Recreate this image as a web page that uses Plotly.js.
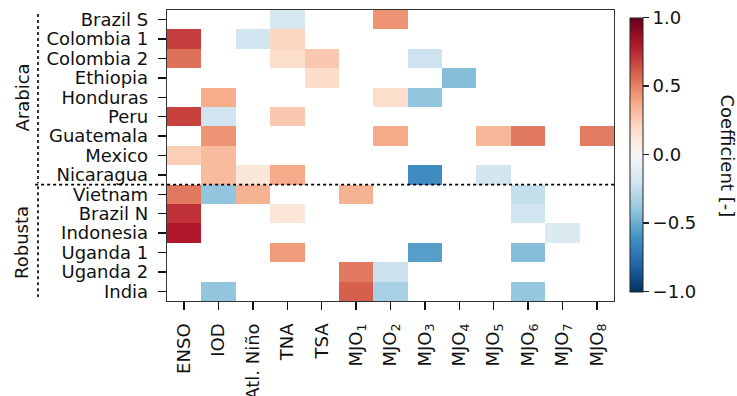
<!DOCTYPE html>
<html>
<head>
<meta charset="utf-8">
<script src="https://cdn.plot.ly/plotly-3.0.1.min.js"></script>
<style>body{margin:0;padding:0;background:#fff;} #chart{width:737px;height:396px;}</style>
</head>
<body>
<div id="chart"></div>
<script>
const columns = ["ENSO","IOD","Atl. Niño","TNA","TSA","MJO<sub>1</sub>","MJO<sub>2</sub>","MJO<sub>3</sub>","MJO<sub>4</sub>","MJO<sub>5</sub>","MJO<sub>6</sub>","MJO<sub>7</sub>","MJO<sub>8</sub>"];
const regions = ["Brazil S","Colombia 1","Colombia 2","Ethiopia","Honduras","Peru","Guatemala","Mexico","Nicaragua","Vietnam","Brazil N","Indonesia","Uganda 1","Uganda 2","India"];
const groups = ["Arabica","Robusta"];
// coefficients per region, columns in order above (null = not significant)
const brazilS    = [null, null, null, -0.17, null, null, 0.45, null, null, null, null, null, null];
const colombia1  = [0.70, null, -0.20, 0.22, null, null, null, null, null, null, null, null, null];
const colombia2  = [0.55, null, null, 0.18, 0.27, null, null, -0.21, null, null, null, null, null];
const ethiopia   = [null, null, null, null, 0.19, null, null, null, -0.43, null, null, null, null];
const honduras   = [null, 0.37, null, null, null, null, 0.18, -0.40, null, null, null, null, null];
const peru       = [0.69, -0.20, null, 0.27, null, null, null, null, null, null, null, null, null];
const guatemala  = [null, 0.45, null, null, null, null, 0.38, null, null, 0.33, 0.53, null, 0.52];
const mexico     = [0.25, 0.32, null, null, null, null, null, null, null, null, null, null, null];
const nicaragua  = [null, 0.32, 0.12, 0.38, null, null, null, -0.63, null, -0.19, null, null, null];
const vietnam    = [0.53, -0.40, 0.35, null, null, 0.35, null, null, null, null, -0.24, null, null];
const brazilN    = [0.73, null, null, 0.13, null, null, null, null, null, null, -0.20, null, null];
const indonesia  = [0.80, null, null, null, null, null, null, null, null, null, null, -0.14, null];
const uganda1    = [null, null, null, 0.43, null, null, null, -0.55, null, null, -0.43, null, null];
const uganda2    = [null, null, null, null, null, 0.53, -0.22, null, null, null, null, null, null];
const india      = [null, -0.40, null, null, null, 0.60, -0.33, null, null, null, -0.39, null, null];
const zRows = [brazilS, colombia1, colombia2, ethiopia, honduras, peru, guatemala, mexico, nicaragua, vietnam, brazilN, indonesia, uganda1, uganda2, india];
const cbTicks = [-1.0, -0.5, 0.0, 0.5, 1.0];
const cbTickText = ["\u22121.0", "\u22120.5", "0.0", "0.5", "1.0"];

const rdbu_r = [
  [0.0, "#053061"],[0.1, "#2166ac"],[0.2, "#4393c3"],[0.3, "#92c5de"],[0.4, "#d1e5f0"],
  [0.5, "#f7f7f7"],[0.6, "#fddbc7"],[0.7, "#f4a582"],[0.8, "#d6604d"],[0.9, "#b2182b"],[1.0, "#67001f"]
];
const FONT = "DejaVu Sans, sans-serif";

const trace = {
  type: "heatmap",
  z: zRows,
  x: columns,
  y: regions,
  zmin: -1, zmax: 1,
  colorscale: rdbu_r,
  hoverongaps: false,
  xgap: 0, ygap: 0,
  colorbar: {
    x: 1.0365, xanchor: "left", xpad: 0,
    y: 0.503, yanchor: "middle", ypad: 0,
    len: 0.94, lenmode: "fraction",
    thickness: 12.5, thicknessmode: "pixels",
    outlinewidth: 1, outlinecolor: "#222",
    ticks: "outside", ticklen: 6, tickwidth: 1.5, tickcolor: "#222",
    tickvals: cbTicks, ticktext: cbTickText,
    tickfont: {family: FONT, size: 18, color: "#111"}
  }
};

const nA = 9;
const layout = {
  width: 737, height: 396,
  margin: {l: 167, r: 123, t: 10, b: 95, pad: 0},
  paper_bgcolor: "#fff", plot_bgcolor: "#fff",
  font: {family: FONT, size: 18, color: "#111"},
  xaxis: {
    type: "category", tickangle: -90, tickmode: "linear", tick0: 0, dtick: 1,
    ticks: "outside", ticklen: 8, tickwidth: 1.5, tickcolor: "#111",
    showline: true, linecolor: "#333", linewidth: 1.25, mirror: true,
    showgrid: false, zeroline: false, ticklabelstandoff: 6,
    tickfont: {family: FONT, size: 18, color: "#111"}
  },
  yaxis: {
    type: "category", autorange: "reversed", tickmode: "linear", tick0: 0, dtick: 1,
    ticks: "outside", ticklen: 8, tickwidth: 1.5, tickcolor: "#111",
    showline: true, linecolor: "#333", linewidth: 1.25, mirror: true,
    showgrid: false, zeroline: false, ticklabelstandoff: 6,
    tickfont: {family: FONT, size: 18, color: "#111"}
  },
  shapes: [
    {type: "line", xref: "paper", yref: "y", x0: -0.295, x1: 1, y0: nA - 0.5, y1: nA - 0.5,
     line: {color: "#000", width: 1.6, dash: "dot"}},
    {type: "line", xref: "paper", yref: "y", x0: -0.2886, x1: -0.2886, y0: -0.29, y1: nA - 0.57,
     line: {color: "#000", width: 1.6, dash: "dot"}},
    {type: "line", xref: "paper", yref: "y", x0: -0.2886, x1: -0.2886, y0: nA - 0.42, y1: regions.length - 0.71,
     line: {color: "#000", width: 1.6, dash: "dot"}}
  ],
  annotations: [
    {text: groups[0], xref: "paper", yref: "y", x: -0.324, y: (nA - 1) / 2, textangle: -90,
     showarrow: false, font: {family: FONT, size: 18, color: "#111"}, xanchor: "center", yanchor: "middle"},
    {text: groups[1], xref: "paper", yref: "y", x: -0.324, y: (nA + regions.length - 1) / 2, textangle: -90,
     showarrow: false, font: {family: FONT, size: 18, color: "#111"}, xanchor: "center", yanchor: "middle"},
    {text: "Coefficient [-]", xref: "paper", yref: "paper", x: 1.253, y: 0.5, textangle: 90,
     showarrow: false, font: {family: FONT, size: 18, color: "#111"}, xanchor: "center", yanchor: "middle"}
  ]
};

Plotly.newPlot("chart", [trace], layout, {staticPlot: true, displayModeBar: false});
</script>
</body>
</html>
